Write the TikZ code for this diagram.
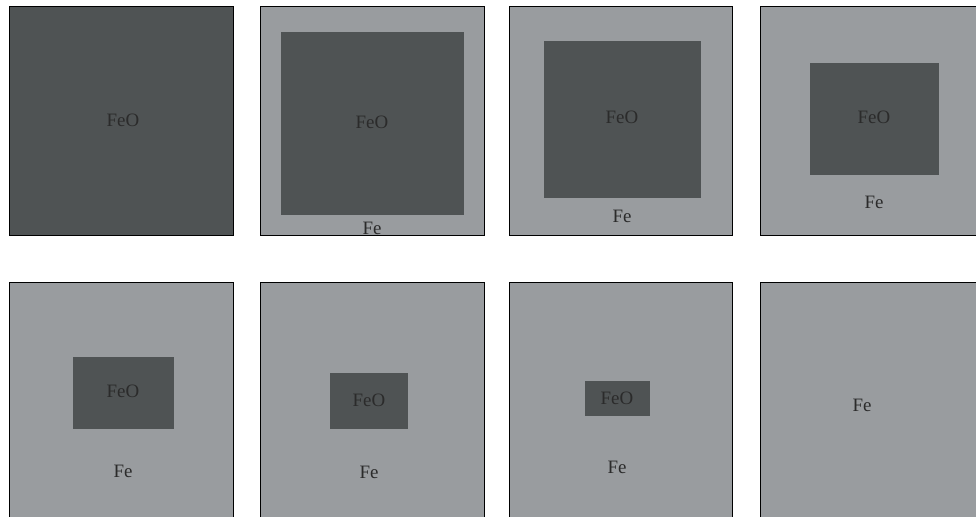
\documentclass[tikz,border=0pt]{standalone}
\usepackage{fontspec}
\setmainfont{Liberation Serif}
\begin{document}
\begin{tikzpicture}[x=1bp,y=-1bp,
  oxide/.style={fill=oxidegray},
  metal/.style={fill=metalgray, draw=black, line width=0.9bp},
  outer/.style={fill=oxidegray, draw=black, line width=0.9bp},
  lbl/.style={text=labelink, inner sep=0pt, font=\fontsize{19}{19}\selectfont}]
\definecolor{oxidegray}{HTML}{4F5354}
\definecolor{metalgray}{HTML}{999C9F}
\definecolor{labelink}{HTML}{2B2B2B}
\useasboundingbox (0,0) rectangle (976,517);
\clip (0,0) rectangle (976,517);

% top row: oxide particle shrinking as the metal shell grows
\draw[outer] (9,6) rectangle (233,235);
\node[lbl] (feo1) at (123,120) {FeO};

\draw[metal] (260.5,6) rectangle (484,235);
\fill[oxide] (281,32) rectangle (464,215);
\node[lbl] (feo2) at (372,122) {FeO};
\node[lbl] (fe2) at (372,228.5) {Fe};

\draw[metal] (509,6) rectangle (732,235);
\fill[oxide] (544,41) rectangle (701,198);
\node[lbl] (feo3) at (622,117) {FeO};
\node[lbl] (fe3) at (622,216) {Fe};

\draw[metal] (760.5,6) rectangle (990,235);
\fill[oxide] (810,63) rectangle (939,175);
\node[lbl] (feo4) at (874,117) {FeO};
\node[lbl] (fe4) at (874,202) {Fe};

% bottom row
\draw[metal] (9,282) rectangle (233,540);
\fill[oxide] (73,357) rectangle (174,429);
\node[lbl] (feo5) at (123,391) {FeO};
\node[lbl] (fe5) at (123,471) {Fe};

\draw[metal] (260.5,282) rectangle (484,540);
\fill[oxide] (330,373) rectangle (408,429);
\node[lbl] (feo6) at (369,400) {FeO};
\node[lbl] (fe6) at (369,472) {Fe};

\draw[metal] (509,282) rectangle (732,540);
\fill[oxide] (585,381) rectangle (650,416);
\node[lbl] (feo7) at (617,398) {FeO};
\node[lbl] (fe7) at (617,467) {Fe};

\draw[metal] (760.5,282) rectangle (990,540);
\node[lbl] (fe8) at (862,405) {Fe};
\end{tikzpicture}
\end{document}
